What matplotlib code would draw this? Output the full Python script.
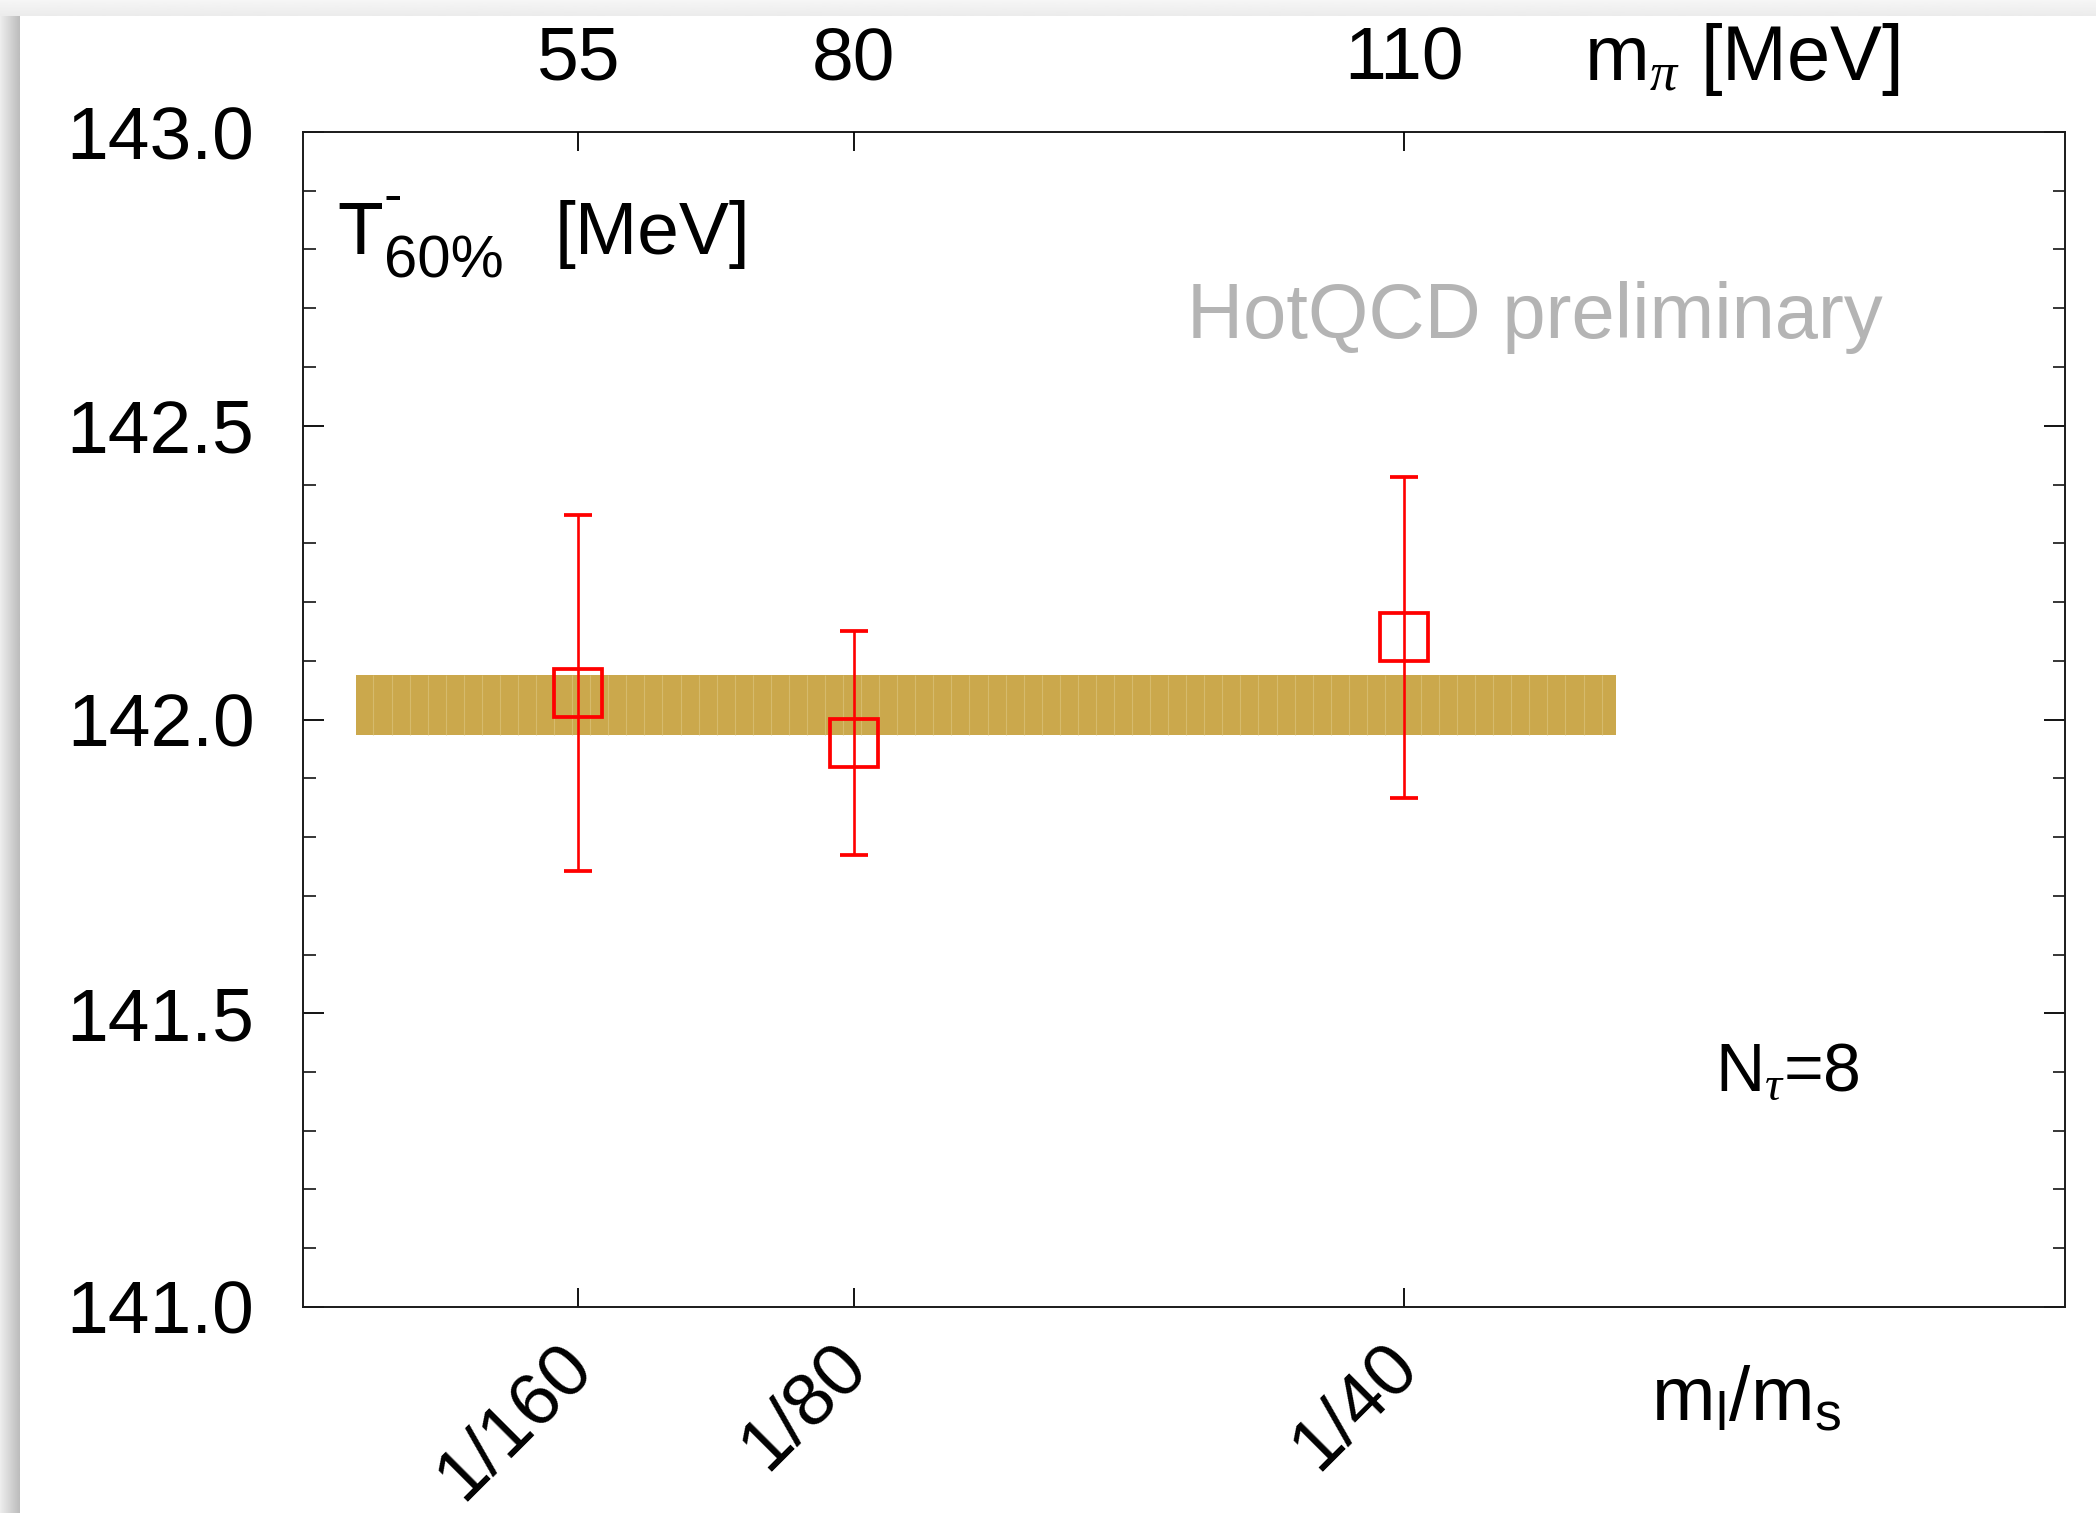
import numpy as np
import matplotlib
matplotlib.use("Agg")
import matplotlib.pyplot as plt
from matplotlib.ticker import MultipleLocator, FormatStrFormatter
import matplotlib.transforms as mtransforms

# ---------------- data ----------------
ratio_labels = ["1/160", "1/80", "1/40"]
ratio = [1 / 160, 1 / 80, 1 / 40]
mpi_labels = ["55", "80", "110"]
T60 = [142.045, 141.960, 142.140]
T60_err = [0.303, 0.190, 0.273]
band_x = [0.0012, 0.0298]
band_lo = [141.973, 141.973]
band_hi = [142.075, 142.075]

# ---------------- style ----------------
plt.rcParams["font.family"] = ["Liberation Sans", "DejaVu Sans"]
plt.rcParams["mathtext.fontset"] = "custom"
plt.rcParams["mathtext.rm"] = "Liberation Sans"
plt.rcParams["mathtext.it"] = "Liberation Serif:italic"
plt.rcParams["mathtext.bf"] = "Liberation Sans:bold"

W, H, DPI = 2096, 1513, 100
fig = plt.figure(figsize=(W / DPI, H / DPI), dpi=DPI)
fig.patch.set_facecolor("white")

# screenshot-like drop shadow on top and left edges
bg = fig.add_axes([0, 0, 1, 1], zorder=-10)
bg.set_xlim(0, W)
bg.set_ylim(H, 0)
bg.axis("off")
top = np.linspace(0.965, 0.925, 16).reshape(-1, 1)
bg.imshow(np.repeat(top, 2, axis=1), cmap="gray", vmin=0, vmax=1,
          extent=[0, W, 16, 0], aspect="auto", interpolation="bilinear")
left = np.linspace(0.93, 0.74, 20).reshape(1, -1)
bg.imshow(np.repeat(left, 2, axis=0), cmap="gray", vmin=0, vmax=1,
          extent=[0, 20, H, 16], aspect="auto", interpolation="bilinear")

ax = fig.add_axes([303 / W, 1 - 1307 / H, 1762 / W, 1175 / H])
ax.set_xlim(0, 0.04)
ax.set_ylim(141.0, 143.0)

# band
ax.fill_between(band_x, band_lo, band_hi, color="#cba84c", lw=0, zorder=1)
stripes = np.arange(band_x[0] + 0.0004, band_x[1], 0.00041)
ax.vlines(stripes, band_lo[0], band_hi[0], color="#dcc27a", lw=0.8, alpha=0.7, zorder=1.5)

# data points
ax.errorbar(ratio, T60, yerr=T60_err, fmt="s", mfc="none", mec="#ff0000",
            ecolor="#ff0000", ms=35, mew=2.7, elinewidth=1.9, capsize=10,
            capthick=2.8, zorder=3)

# axes styling
for s in ax.spines.values():
    s.set_linewidth(1.4)
    s.set_color("#1a1a1a")

ax.yaxis.set_major_locator(MultipleLocator(0.5))
ax.yaxis.set_minor_locator(MultipleLocator(0.1))
ax.yaxis.set_major_formatter(FormatStrFormatter("%.1f"))
ax.tick_params(axis="y", which="major", direction="in", left=True, right=True,
               length=15, width=1.3, labelsize=54, pad=35)
ax.tick_params(axis="y", which="minor", direction="in", left=True, right=True,
               length=9, width=1.1)

ax.set_xticks(ratio)
ax.set_xticklabels(ratio_labels, rotation=45, ha="right", va="top",
                   rotation_mode="anchor")
ax.tick_params(axis="x", which="major", direction="in", length=14, width=1.3,
               labelsize=54, pad=17)
ax.xaxis.set_minor_locator(plt.NullLocator())
offset = mtransforms.ScaledTranslation(-16 / 72, 0, fig.dpi_scale_trans)
for lab in ax.get_xticklabels():
    lab.set_transform(lab.get_transform() + offset)

ax2 = ax.twiny()
ax2.set_xlim(ax.get_xlim())
ax2.set_xticks(ratio)
ax2.set_xticklabels(mpi_labels)
ax2.tick_params(axis="x", which="major", direction="in", length=14, width=1.3,
                labelsize=54, pad=27)
ax2.xaxis.set_minor_locator(plt.NullLocator())
for s in ax2.spines.values():
    s.set_visible(False)

# texts
fig.text(337 / W, 1 - 254 / H, "T", fontsize=54, ha="left", va="baseline")
fig.text(393 / W, 1 - 213 / H, "-", fontsize=40, ha="center", va="baseline")
fig.text(384 / W, 1 - 278 / H, "60%", fontsize=43, ha="left", va="baseline")
fig.text(555 / W, 1 - 254 / H, "[MeV]", fontsize=54, ha="left", va="baseline")
ax.text(0.5017, 0.8247, "HotQCD preliminary", transform=ax.transAxes,
        fontsize=56, color="#b4b4b4", ha="left", va="baseline")
ax.text(0.8014, 0.1838, r"N$_\tau$=8", transform=ax.transAxes,
        fontsize=49, ha="left", va="baseline")
fig.text(1651 / W, 1 - 1420 / H, r"m$_\mathregular{l}$/m$_\mathregular{s}$",
         fontsize=55, ha="left", va="baseline")
fig.text(1584 / W, 1 - 80 / H, r"m$_\pi$ [MeV]", fontsize=56, ha="left",
         va="baseline")

fig.savefig("out.png", dpi=DPI)
